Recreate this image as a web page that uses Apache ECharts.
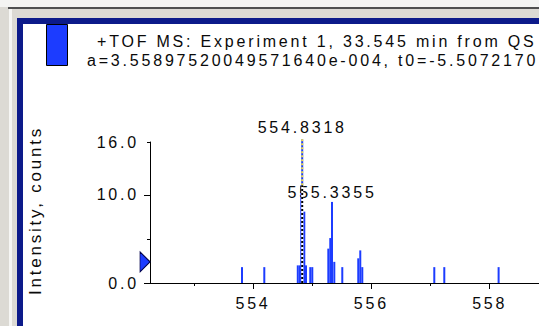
<!DOCTYPE html>
<html>
<head>
<meta charset="utf-8">
<script src="https://cdn.jsdelivr.net/npm/echarts@6/dist/echarts.min.js"></script>
<style>
html, body { margin: 0; padding: 0; background: #fff; }
#chart { width: 539px; height: 326px; }
#chart text { letter-spacing: 2.8px; }
</style>
</head>
<body>
<div id="chart"></div>
<script>
// ---- data ----
const titleLine1 = '+TOF MS: Experiment 1, 33.545 min from QS';
const titleLine2 = 'a=3.55897520049571640e-004, t0=-5.5072170';
const yAxisTitle = 'Intensity, counts';
const mzValues    = [553.814, 554.191, 554.757, 554.791, 554.816, 554.867, 554.896, 554.968, 555.002,
                     555.273, 555.306, 555.3355, 555.374, 555.509, 555.779, 555.813, 555.847,
                     557.064, 557.233, 558.151];
const intensities = [1.8, 1.8, 2.0, 2.0, 11.1, 8.1, 2.0, 1.8, 1.8,
                     3.9, 5.1, 9.2, 2.4, 1.8, 2.8, 3.7, 1.8,
                     1.8, 1.8, 1.8];
const basePeakMz = 554.8318;
const basePeakIntensity = 16.3;
const basePeakOverlap = 11.1;
const labeledPeaks = ['554.8318', '555.3355'];
const xMajorTicks = [554, 556, 558];
const xMinorTicks = [553, 555, 557];
const yLabelTicks = [0, 10, 16];
const yMajorTicks = [0, 10];
const yMinorTicks = [5, 16];
const thresholdLevel = 2.4;
const xMin = 552.2593, xMax = 558.8336, yMin = 0, yMax = 16;

const blue = '#1c3cff';
const ink = '#0a0a0a';
const font = "'Liberation Sans', Arial, sans-serif";
const chart = echarts.init(document.getElementById('chart'), null, { renderer: 'svg' });

const barData = mzValues.map((m, i) => {
  const item = { value: [m, intensities[i]] };
  if (labeledPeaks.indexOf(String(m)) >= 0) {
    item.label = { show: true, position: 'top', distance: 1, formatter: String(m),
      color: ink, fontSize: 16, fontFamily: font };
  }
  return item;
});

function xAxisBase(extra) {
  return Object.assign({
    type: 'value', min: xMin, max: xMax, position: 'bottom',
    splitLine: { show: false }
  }, extra);
}
function yAxisBase(extra) {
  return Object.assign({
    type: 'value', min: yMin, max: yMax, position: 'left',
    splitLine: { show: false }
  }, extra);
}

chart.setOption({
  backgroundColor: '#fff',
  animation: false,
  graphic: [
    { type: 'rect', shape: { x: 0, y: 0, width: 539, height: 326 }, style: { fill: '#dcdad4' }, z: -10 },
    { type: 'rect', shape: { x: 0, y: 0, width: 539, height: 7 }, style: { fill: '#f4f4f2' }, z: -10 },
    { type: 'rect', shape: { x: 8, y: 7, width: 531, height: 2 }, style: { fill: '#505050' }, z: -10 },
    { type: 'rect', shape: { x: 9, y: 9, width: 3, height: 317 }, style: { fill: '#f6f6f4' }, z: -10 },
    { type: 'rect', shape: { x: 17, y: 18, width: 522, height: 308 }, style: { fill: '#0c1a8a' }, z: -10 },
    { type: 'rect', shape: { x: 23, y: 24, width: 516, height: 302 }, style: { fill: '#ffffff' }, z: -10 },
    { type: 'rect', shape: { x: 46.5, y: 24.5, width: 21, height: 41 }, style: { fill: blue, stroke: '#000', lineWidth: 1 }, z: 10 },
    { type: 'text', x: 97, y: 41.5, style: { text: titleLine1, fill: ink, font: '16px ' + font, verticalAlign: 'middle', align: 'left' }, z: 10 },
    { type: 'text', x: 87, y: 60, style: { text: titleLine2, fill: ink, font: '16px ' + font, verticalAlign: 'middle', align: 'left' }, z: 10 },
    { type: 'text', x: 35, y: 210.5, rotation: Math.PI / 2, style: { text: yAxisTitle, fill: ink, font: '17px ' + font, verticalAlign: 'middle', align: 'center' }, z: 10 }
  ],
  grid: { left: 150, top: 142, width: 389, height: 141, containLabel: false },
  xAxis: [
    xAxisBase({
      axisLine: { show: true, lineStyle: { color: '#000', width: 1 } },
      axisTick: { show: true, customValues: xMajorTicks, length: 6, lineStyle: { color: '#000' } },
      axisLabel: { show: true, customValues: xMajorTicks, margin: 12, color: ink, fontSize: 16, fontFamily: font,
        formatter: v => String(Math.round(v)) }
    }),
    xAxisBase({
      axisLine: { show: false },
      axisTick: { show: true, customValues: xMinorTicks, length: 3, lineStyle: { color: '#000' } },
      axisLabel: { show: false }
    })
  ],
  yAxis: [
    yAxisBase({
      axisLine: { show: true, lineStyle: { color: '#000', width: 1 } },
      axisTick: { show: true, customValues: yMajorTicks, length: 6, lineStyle: { color: '#000' } },
      axisLabel: { show: true, customValues: yLabelTicks, margin: 11, color: ink, fontSize: 16, fontFamily: font,
        formatter: v => v.toFixed(1) }
    }),
    yAxisBase({
      axisLine: { show: false },
      axisTick: { show: true, customValues: yMinorTicks, length: 3, lineStyle: { color: '#000' } },
      axisLabel: { show: false }
    })
  ],
  series: [
    {
      type: 'bar', xAxisIndex: 0, yAxisIndex: 0, barWidth: 2, clip: false, z: 2,
      itemStyle: { color: blue }, data: barData
    },
    {
      type: 'line', symbol: 'none', clip: false, z: 5, silent: true,
      lineStyle: { color: blue, width: 2 },
      data: [[basePeakMz, basePeakOverlap], [basePeakMz, basePeakIntensity]]
    },
    {
      type: 'line', symbol: 'none', clip: false, z: 6, silent: true,
      lineStyle: { color: '#f0e040', width: 2, type: [2, 2] },
      data: [[basePeakMz, basePeakOverlap], [basePeakMz, basePeakIntensity]]
    },
    {
      type: 'line', symbol: 'none', clip: false, z: 5, silent: true,
      lineStyle: { color: '#ffffff', width: 2 },
      data: [[basePeakMz, 0], [basePeakMz, basePeakOverlap]]
    },
    {
      type: 'line', symbol: 'none', clip: false, z: 6, silent: true,
      lineStyle: { color: '#000', width: 2, type: [2, 2] },
      data: [[basePeakMz, 0], [basePeakMz, basePeakOverlap]]
    },
    {
      type: 'scatter', symbolSize: 0, clip: false, z: 4, silent: true,
      itemStyle: { opacity: 1 },
      label: { show: true, position: 'top', distance: 4, formatter: labeledPeaks[0],
        color: ink, fontSize: 16, fontFamily: font, opacity: 1 },
      data: [[basePeakMz, basePeakIntensity]]
    },
    {
      type: 'scatter', symbol: 'triangle', symbolSize: [20, 10], symbolRotate: -90, symbolOffset: [-5, 0],
      clip: false, z: 7, silent: true,
      itemStyle: { color: blue, borderColor: '#00004a', borderWidth: 1, opacity: 1 },
      data: [[xMin, thresholdLevel]]
    }
  ]
});
</script>
</body>
</html>
